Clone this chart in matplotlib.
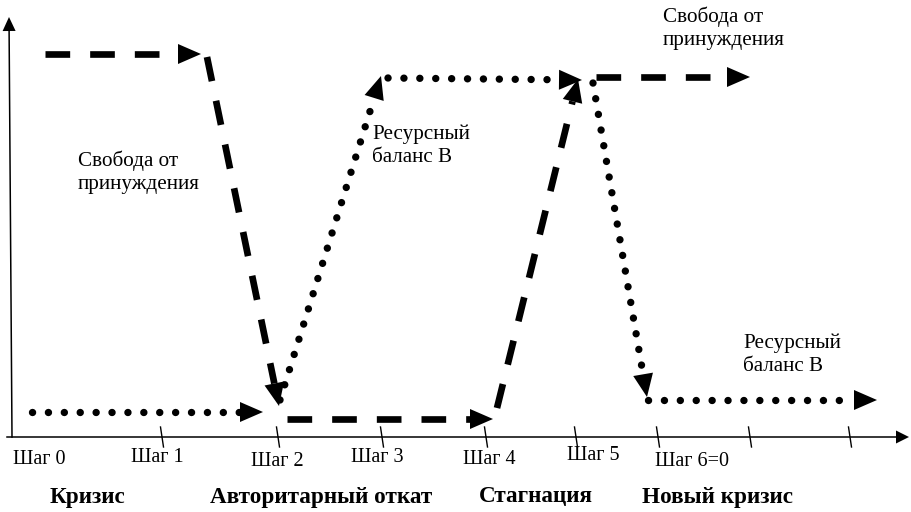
import matplotlib.pyplot as plt
import numpy as np
from matplotlib.patches import Polygon

plt.rcParams['font.family'] = ['Liberation Serif', 'DejaVu Serif']

# diagram coordinates are in pixels of the 911x512 canvas (y grows downward)
# "Свобода от принуждения" path, one arrow per segment: x0, y0, x1, y1
freedom_segs = [
    (45, 54, 201, 54),
    (207, 57, 279, 406),
    (287, 419, 493, 419),
    (497, 408, 578, 79),
    (596, 77, 750, 77),
]
# "Ресурсный баланс B" path
balance_segs = [
    (32, 412, 263, 412),
    (280, 400, 381, 76),
    (388, 78, 582, 80),
    (593, 83, 647, 397),
    (648, 400, 877, 400),
]

tick_x = [162, 278, 382, 486, 576, 658, 750, 850]
step_labels = ['Шаг 0', 'Шаг 1', 'Шаг 2', 'Шаг 3', 'Шаг 4', 'Шаг 5', 'Шаг 6=0']
step_label_x = [39, 157, 277, 377, 489, 593, 692]
step_label_y = [460, 457, 461, 457, 460, 456, 462]
phase_labels = ['Кризис', 'Авторитарный откат', 'Стагнация', 'Новый кризис']
phase_x = [87, 321, 536, 718]

AXIS_Y = 437


def head(ax, x0, y0, x1, y1, length, width):
    d = np.array([x1 - x0, y1 - y0], dtype=float)
    d /= np.hypot(*d)
    n = np.array([-d[1], d[0]])
    tip = np.array([x1, y1])
    base = tip - d * length
    tri = [tip, base + n * width / 2, base - n * width / 2]
    ax.add_patch(Polygon(tri, closed=True, color='k', lw=0, zorder=4))
    return base


def path(ax, segs, **kw):
    for x0, y0, x1, y1 in segs:
        bx, by = head(ax, x0, y0, x1, y1, 23, 20)
        ax.plot([x0, bx], [y0, by], color='k', **kw)


fig = plt.figure(figsize=(9.11, 5.12), dpi=100)
ax = fig.add_axes([0, 0, 1, 1])
ax.set_xlim(0, 911)
ax.set_ylim(512, 0)
ax.axis('off')

# axes
bx, by = head(ax, 7, AXIS_Y, 909, AXIS_Y, 13, 13)
ax.plot([7, bx], [AXIS_Y, AXIS_Y], color='k', lw=1.1)
bx, by = head(ax, 12, AXIS_Y, 9, 17, 14, 13)
ax.plot([12, bx], [AXIS_Y, by], color='k', lw=1.1)
for x in tick_x:
    ax.plot([x - 1.5, x + 1.5], [427, 447], color='k', lw=1.0)

path(ax, freedom_segs, lw=4.8, linestyle=(0, (3.7, 3.0)), dash_capstyle='butt')
path(ax, balance_segs, lw=5.3, linestyle=(0, (0.01, 2.15)), dash_capstyle='round')

for s, x, y in zip(step_labels, step_label_x, step_label_y):
    ax.text(x, y, s, ha='center', va='center', fontsize=14.5)
for s, x in zip(phase_labels, phase_x):
    ax.text(x, 497, s, ha='center', va='center', fontsize=16.7, fontweight='bold')

note = dict(ha='left', va='center', fontsize=15.2, linespacing=1.32)
ax.text(78, 172, 'Свобода от\nпринуждения', **note)
ax.text(372, 146, 'Ресурсный\nбаланс B', **note)
ax.text(663, 28, 'Свобода от\nпринуждения', **note)
ax.text(743, 355, 'Ресурсный\nбаланс B', **note)

fig.savefig('out.png', dpi=100)
